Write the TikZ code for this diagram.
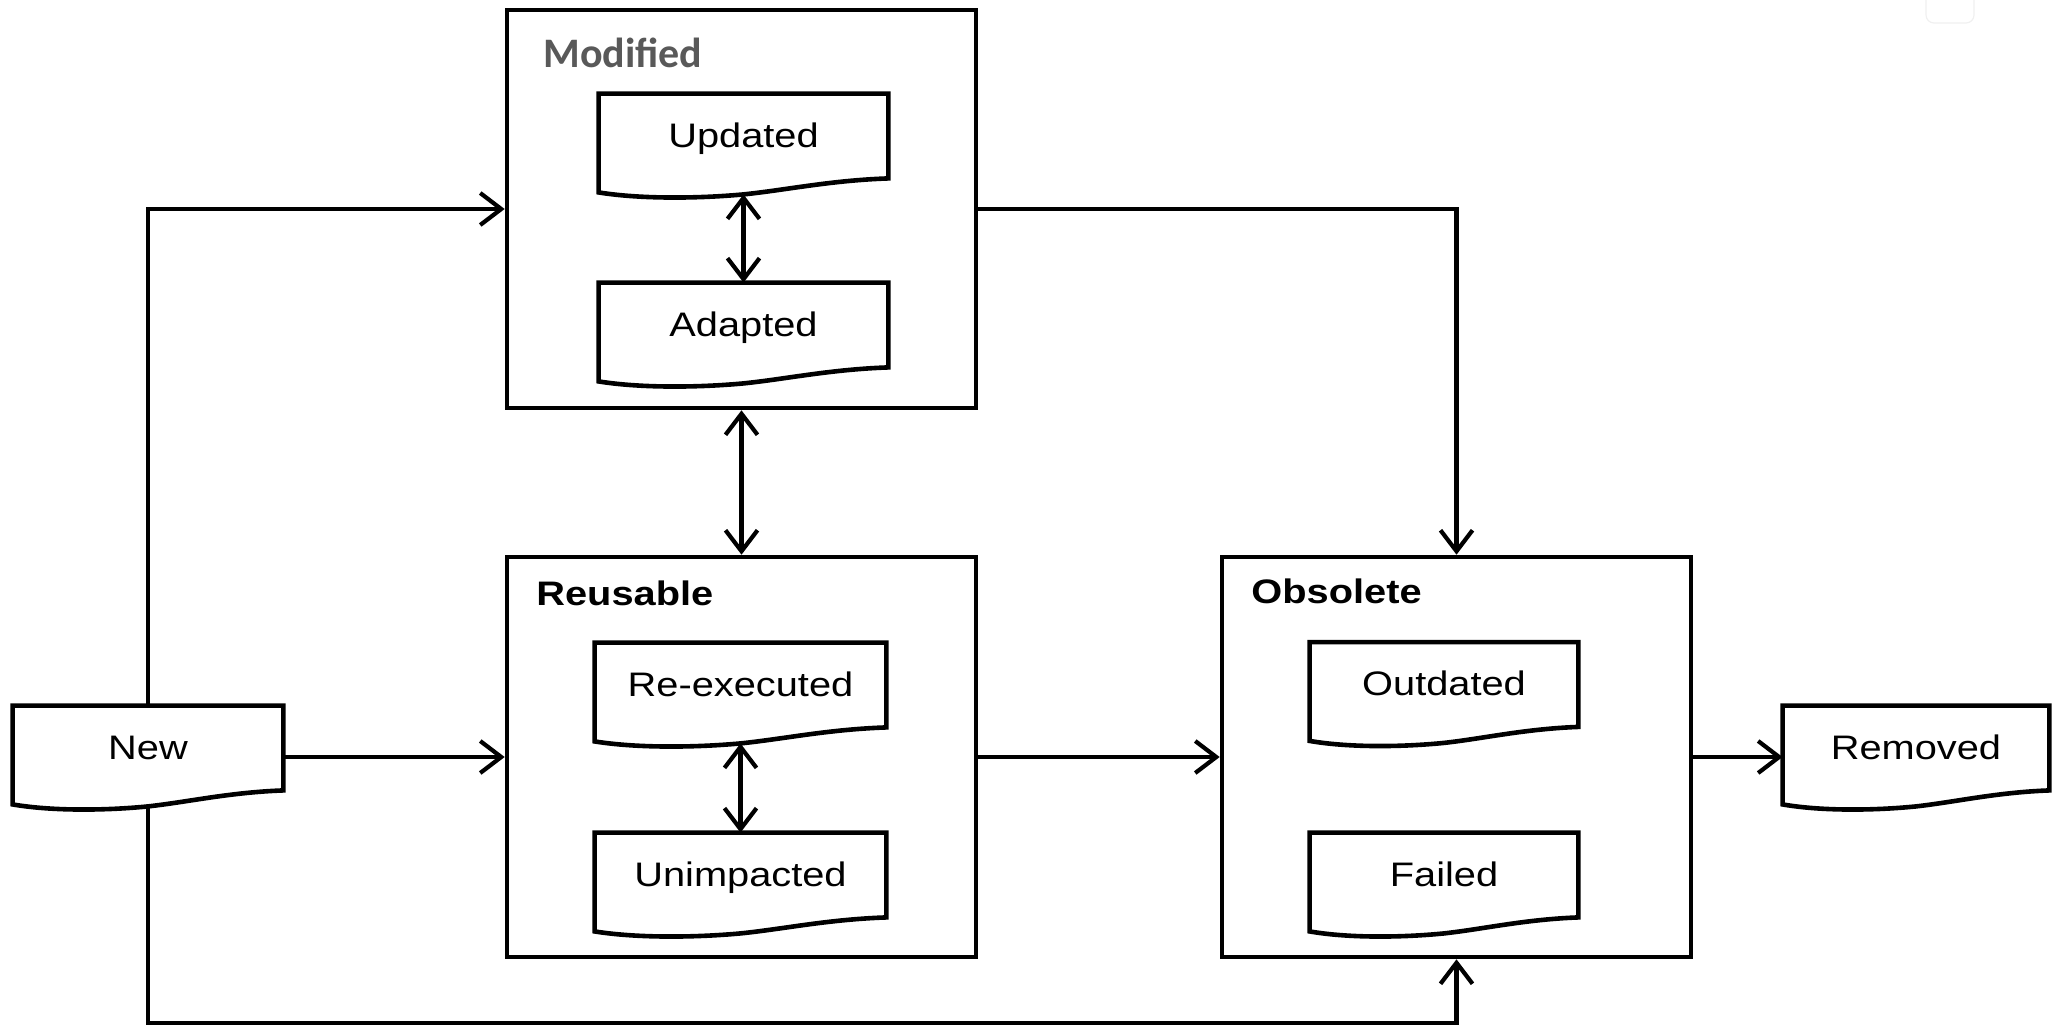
\documentclass[tikz,border=0pt]{standalone}
\usepackage{fontspec}
\setmainfont{Liberation Sans}[FakeStretch=1.17]
\newfontfamily\titlefont{Carlito}
\usetikzlibrary{arrows.meta,calc}
\definecolor{titlegray}{HTML}{595959}
\tikzset{
  lbl/.style={font=\fontsize{17}{20}\selectfont},
  docbox/.style={minimum height=42pt, inner sep=0pt, text height=11pt, text depth=0pt, lbl},
  group/.style={draw, line width=2.3pt, fill=white, inner sep=0pt, minimum width=234.5pt, minimum height=200pt},
  head/.style={anchor=base west, inner sep=0pt, font=\fontsize{17}{20}\selectfont\bfseries},
  tip/.tip={Straight Barb[length=10.5pt,width=16pt]},
  flow/.style={line width=2.1pt, -tip},
  both/.style={line width=2.1pt, tip-tip},
  docline/.style={line width=2.3pt, line join=miter},
}
% outline of a document symbol: straight top and sides, wavy bottom edge
\newcommand\docoutline[1]{%
  \draw[docline] (#1.south east) -- (#1.north east) -- (#1.north west)
    -- ([yshift=-7pt]#1.south west)
    .. controls ($(#1.south west)!0.15!(#1.south east)+(0,-10.5pt)$)
       and ($(#1.south west)!0.35!(#1.south east)+(0,-10pt)$) .. ($(#1.south)+(0,-8pt)$)
    .. controls ($(#1.south west)!0.65!(#1.south east)+(0,-5.75pt)$)
       and ($(#1.south west)!0.8!(#1.south east)+(0,-1pt)$) .. (#1.south east) -- cycle;}
\begin{document}
\begin{tikzpicture}[x=0.5pt,y=-0.5pt]
\useasboundingbox (0,0) rectangle (2056,1029);

% group boxes
\node[group, minimum height=199pt] (mod) at (741.5,209) {};
\node[group] (reu) at (741.5,757) {};
\node[group] (obs) at (1456.5,757) {};

\node[anchor=base west, inner sep=0pt, text=titlegray, font=\titlefont\bfseries\fontsize{21}{24}\selectfont] (modt) at (543,67) {Modified};
\node[head] (reut) at (536,605) {Reusable};
\node[head] (obst) at (1251,603) {Obsolete};

% document symbols
\node[docbox, minimum width=144.5pt] (upd) at (743.5,136) {Updated};
\node[docbox, minimum width=144.5pt] (adp) at (743.5,325) {Adapted};
\node[docbox, minimum width=145.5pt] (rex) at (740.5,685) {Re-executed};
\node[docbox, minimum width=145.5pt] (unm) at (740.5,875) {Unimpacted};
\node[docbox, minimum width=134pt] (out) at (1444,684.5) {Outdated};
\node[docbox, minimum width=134pt] (fld) at (1444,875) {Failed};
\node[docbox, minimum width=135pt] (new) at (148,748) {New};
\node[docbox, minimum width=133pt] (rem) at (1916,748) {Removed};

\foreach \d in {upd,adp,rex,unm,out,fld,new,rem} {\docoutline{\d}}

% connectors
\coordinate (newb) at ($(new.south)+(0,-8pt)$);
\coordinate (lowrun) at (148,1023);
\draw[flow] (new.north) |- (mod.west);
\draw[flow] (new.east |- reu.west) -- (reu.west);
\draw[flow] (reu.east) -- (obs.west);
\draw[flow] (mod.east) -| (obs.north);
\draw[flow] (obs.east) -- (obs.east -| rem.west);
\draw[flow] (newb) -- (newb |- lowrun) -| (obs.south);
\draw[both] (mod.south) -- (reu.north);
\draw[both] ($(upd.south)+(0,-8pt)$) -- (adp.north);
\draw[both] ($(rex.south)+(0,-8pt)$) -- (unm.north);

% faint frame in the upper right corner
\draw[gray!12, line width=0.6pt, rounded corners=4pt] (1926,-10) rectangle (1974,23);
\end{tikzpicture}
\end{document}
